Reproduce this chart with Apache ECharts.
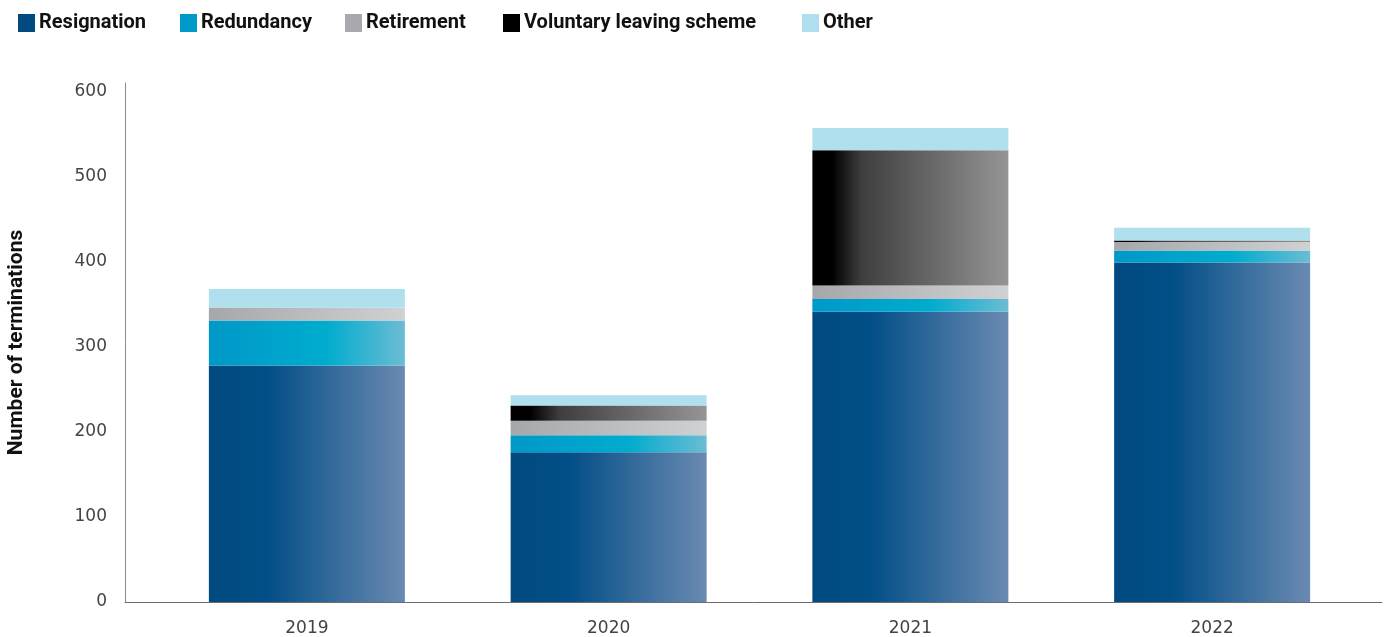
<!DOCTYPE html>
<html>
<head>
<meta charset="utf-8">
<script src="https://cdn.jsdelivr.net/npm/echarts@6/dist/echarts.min.js"></script>
<style>html,body{margin:0;padding:0;background:#fff}#c{width:1389px;height:637px}</style>
</head>
<body>
<div id="c"></div>
<script>
const categories = ['2019', '2020', '2021', '2022'];
const seriesNames = ['Resignation', 'Redundancy', 'Retirement', 'Voluntary leaving scheme', 'Other'];
const resignation = [278, 176, 341, 399];
const redundancy = [53, 20, 15, 14];
const retirement = [15, 17, 16, 10];
const voluntary = [0, 18, 159, 2];
const other = [22, 12, 26, 15];
const yTicks = [0, 100, 200, 300, 400, 500, 600];

const G = echarts.graphic.LinearGradient;
const fills = [
  new G(0, 0, 1, 0, [{offset: 0, color: '#004a80'}, {offset: 0.3, color: '#024e86'}, {offset: 1, color: '#6a8ab2'}]),
  new G(0, 0, 1, 0, [{offset: 0, color: '#0098c8'}, {offset: 0.6, color: '#00acce'}, {offset: 1, color: '#6cbcd3'}]),
  new G(0, 0, 1, 0, [{offset: 0, color: '#a6a7aa'}, {offset: 1, color: '#d0d1d3'}]),
  new G(0, 0, 1, 0, [{offset: 0, color: '#000000'}, {offset: 0.1, color: '#000000'}, {offset: 0.25, color: '#3e3e3f'}, {offset: 1, color: '#959596'}]),
  '#b0dfee'
];
const legendColors = ['#004a80', '#0099c9', '#a7a9ac', '#000000', '#afdfee'];
const legendLeft = [18, 180, 345, 503, 802];
const values = [resignation, redundancy, retirement, voluntary, other];

const chart = echarts.init(document.getElementById('c'), null, {renderer: 'canvas'});
const labelFont = {fontFamily: 'DejaVu Sans', fontSize: 17, fontWeight: 'normal', color: '#444'};

chart.setOption({
  animation: false,
  legend: seriesNames.map((n, i) => ({
    left: legendLeft[i], top: 13, padding: 0, itemWidth: 17, itemHeight: 18, itemGap: 0,
    icon: 'rect', selectedMode: false,
    textStyle: {fontFamily: 'Roboto', fontWeight: 'bold', fontSize: 20, color: '#111', padding: [0, 0, 0, -1]},
    data: [{name: n, itemStyle: {color: legendColors[i]}}]
  })),
  grid: [
    {left: 125, right: 7, top: 83, bottom: 35, containLabel: false, outerBoundsMode: 'none'},
    {left: 156, right: 26, top: 83, bottom: 35, containLabel: false, outerBoundsMode: 'none'}
  ],
  xAxis: [
    {type: 'category', gridIndex: 0, data: categories, axisLine: {lineStyle: {color: '#6b6b6b', width: 1}}, axisTick: {show: false}, axisLabel: {show: false}},
    {type: 'category', gridIndex: 1, data: categories, axisLine: {show: false}, axisTick: {show: false}, axisLabel: Object.assign({margin: 18}, labelFont)}
  ],
  yAxis: [
    {type: 'value', gridIndex: 0, min: 0, max: 610, interval: 100,
     name: 'Number of terminations', nameLocation: 'middle', nameGap: 98,
     nameTextStyle: {fontFamily: 'Roboto', fontWeight: 'bold', fontSize: 21, color: '#111'},
     axisLine: {show: true, lineStyle: {color: '#8a8a8a', width: 1}}, axisTick: {show: false},
     splitLine: {show: false},
     axisLabel: Object.assign({margin: 18, showMaxLabel: false, formatter: v => yTicks.includes(v) ? String(v) : ''}, labelFont)},
    {type: 'value', gridIndex: 1, min: 0, max: 610, show: false, splitLine: {show: false}}
  ],
  series: seriesNames.map((n, i) => ({
    name: n, type: 'bar', stack: 'total', xAxisIndex: 1, yAxisIndex: 1,
    barWidth: 196, data: values[i], itemStyle: {color: fills[i]}
  }))
});
</script>
</body>
</html>
